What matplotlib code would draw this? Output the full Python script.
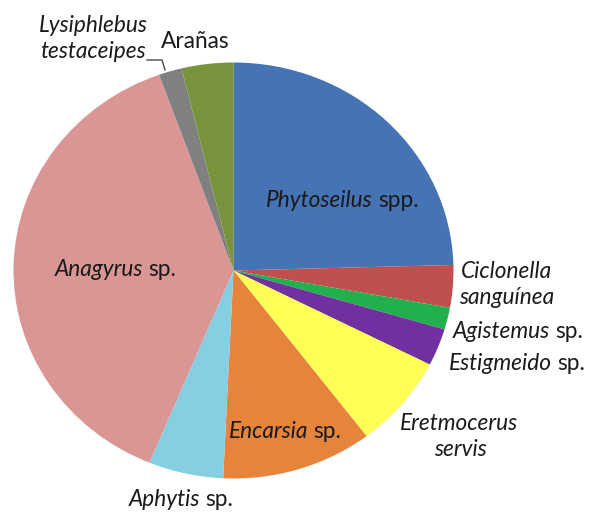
import matplotlib
matplotlib.use("Agg")
import matplotlib.pyplot as plt

W, H = 589, 514
categories = ["Phytoseilus spp.", "Ciclonella sanguínea", "Agistemus sp.", "Estigmeido sp.",
              "Eretmocerus servis", "Encarsia sp.", "Aphytis sp.", "Anagyrus sp.",
              "Lysiphlebus testaceipes", "Arañas"]
values = [24.6, 3.3, 1.7, 2.9, 7.2, 11.1, 5.5, 38.3, 1.7, 3.8]
colors = ["#4573B4", "#C0504D", "#22B04C", "#7030A0", "#FFFF55", "#E5843A",
          "#86CFE2", "#D99694", "#808080", "#77933C"]

plt.rcParams['font.family'] = ['Lato', 'DejaVu Sans']
fig = plt.figure(figsize=(W/100, H/100), dpi=100)
# pie bbox in pixels: x 13.5..453.5, y 62.5..478.5 (from top)
ax = fig.add_axes([13.5/W, (H-478.5)/H, 440/W, 416/H])
ax.pie(values, colors=colors, startangle=90, counterclock=False, radius=1,
       wedgeprops=dict(linewidth=0))
ax.set_xlim(-1, 1)
ax.set_ylim(-1, 1)
ax.set_aspect('auto')
ax.axis('off')

FS = 16.3
tc = "#1a1a1a"

def px(x, y):
    return x / W, 1 - y / H

def lab(x, y, s, italic=False, ha='left'):
    fig.text(*px(x, y), s, fontsize=FS, color=tc, ha=ha, va='center',
             style='italic' if italic else 'normal')

def mixed(xsplit, y, it, rest):
    lab(xsplit, y, it, italic=True, ha='right')
    lab(xsplit + 5, y, rest)

mixed(373, 201, "Phytoseilus", "spp.")
mixed(143, 269, "Anagyrus", "sp.")
mixed(308, 431, "Encarsia", "sp.")
mixed(200, 499, "Aphytis", "sp.")
lab(506, 272, "Ciclonella", italic=True, ha='center')
lab(507, 297, "sanguínea", italic=True, ha='center')
mixed(550, 331, "Agistemus", "sp.")
mixed(552, 363, "Estigmeido", "sp.")
lab(459, 424, "Eretmocerus", italic=True, ha='center')
lab(460, 450, "servis", italic=True, ha='center')
lab(93, 26, "Lysiphlebus", italic=True, ha='center')
lab(93, 52, "testaceipes", italic=True, ha='center')
lab(195, 42, "Arañas", ha='center')

xs = [147/W, 162/W, 165/W]
ys = [1-60/H, 1-60/H, 1-70/H]
fig.add_artist(plt.Line2D(xs, ys, color="#333333", lw=0.9, transform=fig.transFigure))

fig.savefig("out.png", dpi=100, facecolor="white")
